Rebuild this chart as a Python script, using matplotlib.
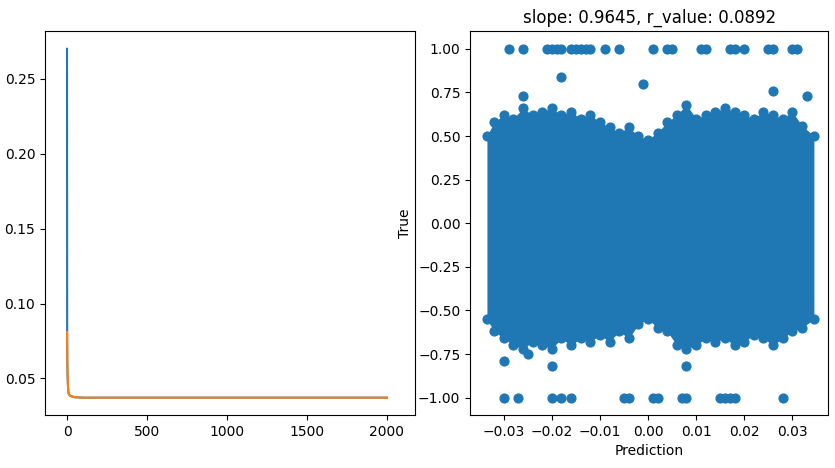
import numpy as np
import matplotlib
matplotlib.use("Agg")
import matplotlib.pyplot as plt

# ---------------- loss curves (left) ----------------
epochs     = [0, 1, 2, 3, 4, 6, 8, 10, 15, 20, 30, 50, 100, 2000]
train_loss = [0.270, 0.080, 0.062, 0.055, 0.050, 0.045, 0.042, 0.040, 0.039, 0.0385, 0.038, 0.0375, 0.0372, 0.0372]
val_loss   = [0.081, 0.070, 0.060, 0.054, 0.050, 0.045, 0.042, 0.040, 0.039, 0.0385, 0.038, 0.0375, 0.0372, 0.0372]

# ---------------- scatter (right) ----------------
# envelope of the dense cloud of points
env_x     = [-0.0335, -0.032, -0.030, -0.028, -0.026, -0.024, -0.022, -0.020, -0.018, -0.016, -0.014, -0.012,
             -0.010, -0.008, -0.006, -0.004, -0.002, 0.000, 0.002, 0.004, 0.006, 0.008, 0.010, 0.012, 0.014,
             0.016, 0.018, 0.020, 0.022, 0.024, 0.026, 0.028, 0.030, 0.032, 0.0345]
env_upper = [0.50, 0.58, 0.62, 0.60, 0.66, 0.62, 0.64, 0.66, 0.62, 0.64, 0.60, 0.62, 0.58, 0.55, 0.52, 0.55,
             0.50, 0.48, 0.52, 0.58, 0.62, 0.68, 0.60, 0.62, 0.64, 0.66, 0.64, 0.62, 0.60, 0.64, 0.62, 0.60,
             0.64, 0.56, 0.50]
env_lower = [-0.55, -0.62, -0.66, -0.70, -0.72, -0.68, -0.70, -0.72, -0.66, -0.70, -0.66, -0.68, -0.64,
             -0.68, -0.62, -0.66, -0.58, -0.55, -0.60, -0.62, -0.70, -0.72, -0.70, -0.66, -0.68, -0.66,
             -0.70, -0.68, -0.64, -0.66, -0.70, -0.66, -0.62, -0.60, -0.55]

out_x = [-0.029, -0.026, -0.021, -0.020, -0.019, -0.018, -0.016, -0.015, -0.014, -0.013, -0.012, -0.009,
         -0.006, 0.001, 0.004, 0.005, 0.011, 0.012, 0.017, 0.018, 0.020, 0.025, 0.026, 0.030, 0.031,
         -0.030, -0.027, -0.020, -0.018, -0.016, -0.005, -0.004, 0.001, 0.002, 0.007, 0.008, 0.015,
         0.016, 0.017, 0.018, 0.028,
         -0.018, -0.001, -0.026, 0.033, 0.026, -0.030, -0.020, 0.008, -0.025]
out_y = [1.0] * 25 + [-1.0] * 16 + [0.84, 0.80, 0.73, 0.73, 0.76, -0.79, -0.82, -0.82, -0.75]

blue = "#1f77b4"

fig = plt.figure(figsize=(8.35, 4.68), dpi=100)
ax1 = fig.add_axes([0.054, 0.113, 0.443, 0.82])
ax2 = fig.add_axes([0.563, 0.113, 0.429, 0.82])

ax1.plot(epochs, train_loss, color=blue)
ax1.plot(epochs, val_loss, color="#ff7f0e")
ax1.set_xticks([0, 500, 1000, 1500, 2000])
ax1.set_xlim(-137, 2175)

ax2.fill_between(env_x, env_lower, env_upper, color=blue, linewidth=0)
ax2.scatter(env_x, env_upper, color=blue, s=40)
ax2.scatter(env_x, env_lower, color=blue, s=40)
ax2.scatter(out_x, out_y, color=blue, s=40)
ax2.set_xlim(-0.037, 0.0375)
ax2.set_ylim(-1.1, 1.1)
ax2.set_title("slope: 0.9645, r_value: 0.0892")
ax2.set_xlabel("Prediction")
ax2.set_ylabel("True")

fig.savefig("out.png", dpi=100)
